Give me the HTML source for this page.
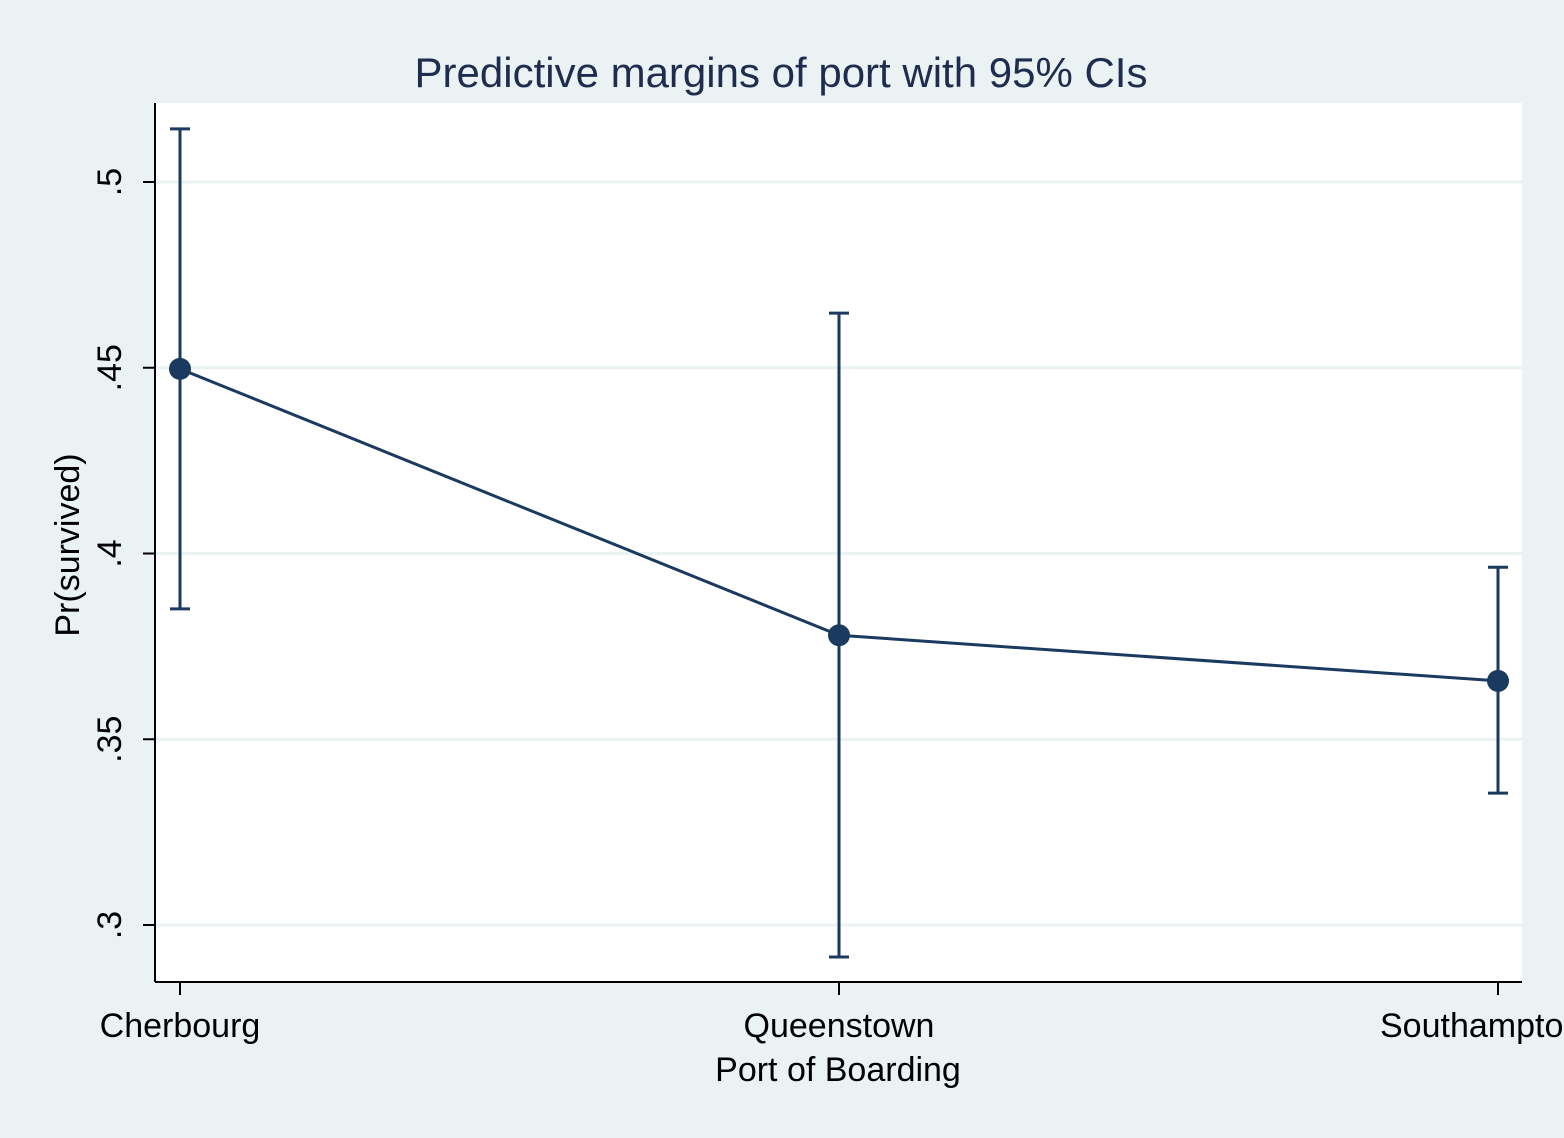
<!DOCTYPE html>
<html><head><meta charset="utf-8"><style>
html,body{margin:0;padding:0;background:#eaf2f3;}
svg{display:block;font-family:"Liberation Sans",Arial,sans-serif;}
</style></head><body>
<svg width="1564" height="1138" viewBox="0 0 1564 1138">
<rect x="0" y="0" width="1564" height="1138" fill="#eaf2f3"/>
<rect x="155" y="103" width="1367" height="879" fill="#ffffff"/>
<text x="781" y="87" font-size="42" fill="#1e2d4f" text-anchor="middle">Predictive margins of port with 95% CIs</text>
<g id="grid"></g>
<g id="axes"></g>
<g id="marks"></g>
<text x="838" y="1081" font-size="34" fill="#000" text-anchor="middle">Port of Boarding</text>
<text transform="translate(79,545) rotate(-90)" font-size="34" fill="#000" text-anchor="middle">Pr(survived)</text>
</svg>
<script>
const categories = ["Cherbourg","Queenstown","Southampton"];
const margins = [0.4497, 0.3780, 0.3657];
const ciLow = [0.3851, 0.2914, 0.3355];
const ciHigh = [0.5143, 0.4647, 0.3963];
const yTicks = [0.3, 0.35, 0.4, 0.45, 0.5];
const yTickLabels = [".3", ".35", ".4", ".45", ".5"];

const NS = "http://www.w3.org/2000/svg";
const y = v => 182 + (0.5 - v) * 3715;
const x = i => 180 + i * 659;
function mk(tag, attrs, parent){const e=document.createElementNS(NS,tag);for(const k in attrs)e.setAttribute(k,attrs[k]);parent.appendChild(e);return e;}
const grid=document.getElementById('grid'), axes=document.getElementById('axes'), marks=document.getElementById('marks');
const col="#1a3a5f";

yTicks.forEach((v,i)=>{
  const g=mk('line',{x1:155,x2:1522,y1:y(v),y2:y(v),stroke:'#eaf2f3','stroke-width':3},grid);
  
  
  const t=mk('line',{x1:143,x2:155,y1:y(v),y2:y(v),stroke:'#000','stroke-width':2},axes);
  
  
  const l=mk('text',{transform:`translate(121,${y(v)}) rotate(-90)`,'font-size':34,'text-anchor':'middle',fill:'#000'},axes);
  l.textContent=yTickLabels[i];
  
  
});
const ya=mk('line',{x1:155,x2:155,y1:103,y2:982,stroke:'#000','stroke-width':2},axes);


const xa=mk('line',{x1:155,x2:1522,y1:982,y2:982,stroke:'#000','stroke-width':2},axes);


categories.forEach((c,i)=>{
  const t=mk('line',{x1:x(i),x2:x(i),y1:982,y2:995,stroke:'#000','stroke-width':2},axes);
  
  
  const l=mk('text',{x:i===2?1380:x(i),y:1037,'font-size':34,'text-anchor':i===2?'start':'middle',fill:'#000'},axes);
  l.textContent=c;
  
  
});
categories.forEach((c,i)=>{
  const g=mk('g',{},marks);
  
  
  mk('line',{x1:x(i),x2:x(i),y1:y(ciLow[i]),y2:y(ciHigh[i]),stroke:col,'stroke-width':3},g);
  mk('line',{x1:x(i)-10,x2:x(i)+10,y1:y(ciLow[i]),y2:y(ciLow[i]),stroke:col,'stroke-width':3},g);
  mk('line',{x1:x(i)-10,x2:x(i)+10,y1:y(ciHigh[i]),y2:y(ciHigh[i]),stroke:col,'stroke-width':3},g);
});
const pl=mk('polyline',{points:margins.map((v,i)=>x(i)+','+y(v)).join(' '),fill:'none',stroke:col,'stroke-width':3},marks);


margins.forEach((v,i)=>{
  const p=mk('circle',{cx:x(i),cy:y(v),r:11,fill:col},marks);
  
  
});
</script>
</body></html>
